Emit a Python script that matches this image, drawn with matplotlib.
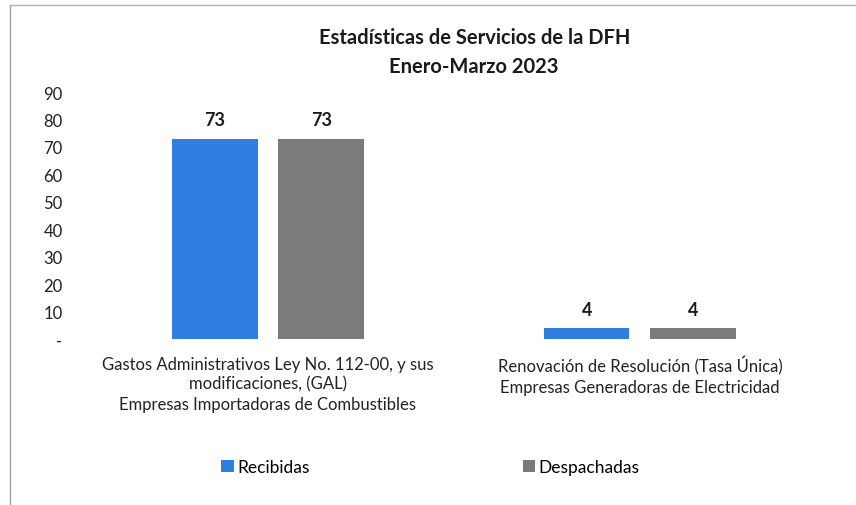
import matplotlib.pyplot as plt
import numpy as np
from matplotlib.lines import Line2D

plt.rcParams['font.family'] = ['Lato', 'DejaVu Sans']

categories = ["Gastos Administrativos Ley No. 112-00, y sus\nmodificaciones, (GAL)\nEmpresas Importadoras de Combustibles",
              "Renovación de Resolución (Tasa Única)\nEmpresas Generadoras de Electricidad"]
recibidas = [73, 4]
despachadas = [73, 4]
series_names = ["Recibidas", "Despachadas"]
yticks = [0, 10, 20, 30, 40, 50, 60, 70, 80, 90]
ytick_labels = ["-", "10", "20", "30", "40", "50", "60", "70", "80", "90"]

blue = "#2f7ee0"
gray = "#7b7b7b"

fig = plt.figure(figsize=(8.56, 5.06), dpi=100)
ax = fig.add_axes([0.0958, 0.328, 0.869, 0.488])

x = np.arange(len(categories))
w = 0.23
gap = 0.056
b1 = ax.bar(x - (w + gap) / 2, recibidas, w, color=blue, label=series_names[0])
b2 = ax.bar(x + (w + gap) / 2, despachadas, w, color=gray, label=series_names[1])

for bars in (b1, b2):
    for r in bars:
        ax.text(r.get_x() + r.get_width() / 2, r.get_height() + 3.8, f"{int(r.get_height())}",
                ha="center", va="bottom", fontsize=13, fontweight="bold", color="#1a1a1a")

ax.set_xlim(-0.5, 1.5)
ax.set_ylim(0, 90)
ax.set_yticks(yticks)
ax.set_yticklabels(ytick_labels)
ax.set_xticks(x)
ax.set_xticklabels(categories, fontsize=12, color="#222222", linespacing=1.3)
ax.tick_params(axis="both", length=0, labelsize=12, colors="#222222")
ax.tick_params(axis="x", pad=12)
ax.tick_params(axis="y", pad=14)
for s in ax.spines.values():
    s.set_visible(False)

fig.text(0.554, 0.925, "Estadísticas de Servicios de la DFH", ha="center", va="center",
         fontsize=14.5, fontweight="bold", color="#1a1a1a")
fig.text(0.554, 0.867, "Enero-Marzo 2023", ha="center", va="center",
         fontsize=14.5, fontweight="bold", color="#1a1a1a")

fig.legend(handles=[b1, b2], labels=series_names, loc="center", bbox_to_anchor=(0.503, 0.075),
           ncol=2, frameon=False, fontsize=12.5, handlelength=0.7, handleheight=0.7,
           handletextpad=0.2, columnspacing=12.3)

# scanned page border
fig.add_artist(Line2D([0.012, 0.012], [0.0, 0.988], color="#a0a0a0", lw=1))
fig.add_artist(Line2D([0.012, 1.0], [0.988, 0.988], color="#b0b0b0", lw=1))

fig.savefig("out.png", dpi=100)
